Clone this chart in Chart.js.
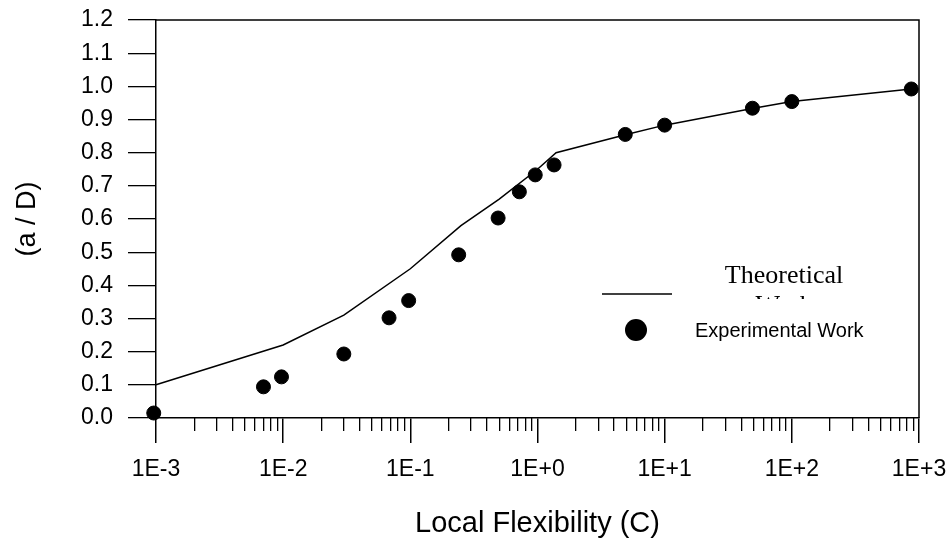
<!DOCTYPE html>
<html>
<head>
<meta charset="utf-8">
<script src="https://cdn.jsdelivr.net/npm/chart.js@4.4.1/dist/chart.umd.min.js"></script>
<style>
    body { margin: 0; background: #fff; }
    #caixa { width: 950px; height: 538px; }
</style>
</head>
<body>
<div id="caixa"><canvas id="grafico" width="950" height="538"></canvas></div>
<script>
// valores
const teoricoX = [0.001, 0.01, 0.03, 0.1, 0.25, 0.5, 1, 1.4, 5, 10, 50, 100, 870];
const teoricoY = [0.10, 0.22, 0.31, 0.45, 0.58, 0.66, 0.75, 0.80, 0.855, 0.883, 0.934, 0.954, 0.992];

const experimentalX = [0.00096, 0.007, 0.0097, 0.03, 0.068, 0.097, 0.24, 0.49, 0.72, 0.96, 1.35, 4.9, 10, 49, 100, 870];
const experimentalY = [0.015, 0.094, 0.124, 0.193, 0.302, 0.354, 0.492, 0.603, 0.682, 0.733, 0.763, 0.855, 0.883, 0.934, 0.954, 0.992];

const xTicks = [1e-3, 1e-2, 1e-1, 1e0, 1e1, 1e2, 1e3];
const xTickLabels = ['1E-3', '1E-2', '1E-1', '1E+0', '1E+1', '1E+2', '1E+3'];
const xMinorMult = [2, 3, 4, 5, 6, 7, 8, 9];

const fonteSans = "'Liberation Sans', Arial, sans-serif";
const fonteSerif = "'Liberation Serif', 'Times New Roman', serif";

function juntar(xs, ys) {
    return xs.map((x, i) => ({ x: x, y: ys[i] }));
}

// sem folga extra das labels, a área fica onde o padding manda
function semFolga(s) {
    s.paddingTop = 0;
    s.paddingBottom = 0;
    s.paddingLeft = 0;
    s.paddingRight = 0;
}

// moldura de cima e da direita
const moldura = {
    id: 'moldura',
    afterDraw(chart) {
        const a = chart.chartArea;
        const ctx = chart.ctx;
        ctx.save();
        ctx.strokeStyle = '#000';
        ctx.lineWidth = 1.5;
        ctx.beginPath();
        ctx.moveTo(a.left, a.top);
        ctx.lineTo(a.right, a.top);
        ctx.lineTo(a.right, a.bottom);
        ctx.stroke();
        ctx.restore();
    }
};

// legenda desenhada à mão, como no original
const legenda = {
    id: 'legenda',
    afterDraw(chart) {
        const a = chart.chartArea;
        const ctx = chart.ctx;
        const ds = chart.data.datasets;
        const lx = a.left + 446;
        const ly = a.top + 274;
        ctx.save();
        ctx.strokeStyle = ds[0].borderColor;
        ctx.lineWidth = 1.5;
        ctx.beginPath();
        ctx.moveTo(lx, ly);
        ctx.lineTo(lx + 70, ly);
        ctx.stroke();

        ctx.fillStyle = '#000';
        ctx.font = '26px ' + fonteSerif;
        ctx.textAlign = 'center';
        ctx.textBaseline = 'alphabetic';
        ctx.fillText(ds[0].label.split(' ')[0], lx + 182, ly - 11);
        ctx.save();
        ctx.beginPath();
        ctx.rect(lx + 100, ly - 10, 200, 15);
        ctx.clip();
        ctx.fillText(ds[0].label.split(' ')[1], lx + 182, ly + 19);
        ctx.restore();

        ctx.fillStyle = ds[1].backgroundColor;
        ctx.beginPath();
        ctx.arc(lx + 34, ly + 36, 11, 0, Math.PI * 2);
        ctx.fill();

        ctx.fillStyle = '#000';
        ctx.font = '20px ' + fonteSans;
        ctx.textAlign = 'left';
        ctx.textBaseline = 'middle';
        ctx.fillText(ds[1].label, lx + 93, ly + 37);
        ctx.restore();
    }
};

new Chart(document.getElementById('grafico'), {
    type: 'scatter',
    data: {
        datasets: [{
            label: 'Theoretical Work',
            data: juntar(teoricoX, teoricoY),
            showLine: true,
            borderColor: '#000',
            borderWidth: 1.5,
            pointRadius: 0,
            tension: 0,
            clip: false
        }, {
            label: 'Experimental Work',
            data: juntar(experimentalX, experimentalY),
            showLine: false,
            backgroundColor: '#000',
            borderColor: '#000',
            pointRadius: 7,
            clip: false
        }]
    },
    options: {
        responsive: false,
        animation: false,
        layout: { padding: { top: 20, right: 31, left: 0, bottom: 0 } },
        plugins: {
            legend: { display: false },
            tooltip: { enabled: false }
        },
        scales: {
            x: {
                type: 'logarithmic',
                position: 'bottom',
                weight: 1,
                min: 1e-3,
                max: 1e3,
                afterBuildTicks: (s) => { s.ticks = xTicks.map(v => ({ value: v })); },
                afterFit: (s) => { s.height = 120; semFolga(s); },
                grid: { drawOnChartArea: false, tickLength: 25, color: '#000', lineWidth: 1.5 },
                border: { display: true, color: '#000', width: 1.5 },
                ticks: {
                    autoSkip: false,
                    maxRotation: 0,
                    padding: 13,
                    color: '#000',
                    font: { family: fonteSans, size: 23 },
                    callback: (v, i) => xTickLabels[i]
                },
                title: {
                    display: true,
                    text: 'Local Flexibility (C)',
                    color: '#000',
                    padding: 0,
                    font: { family: fonteSans, size: 29, lineHeight: 1 }
                }
            },
            xMenor: {
                type: 'logarithmic',
                position: 'bottom',
                weight: 0,
                min: 1e-3,
                max: 1e3,
                afterBuildTicks: (s) => {
                    const t = [];
                    xTicks.slice(0, -1).forEach(d => xMinorMult.forEach(m => t.push({ value: d * m })));
                    s.ticks = t;
                },
                afterFit: (s) => { s.height = 0; semFolga(s); },
                grid: { drawOnChartArea: false, tickLength: 13, color: '#000', lineWidth: 1.3 },
                border: { display: false },
                ticks: { display: false }
            },
            y: {
                type: 'linear',
                min: 0,
                max: 1.2,
                afterFit: (s) => { s.width = 156; semFolga(s); },
                grid: { drawOnChartArea: false, tickLength: 28, color: '#000', lineWidth: 1.3 },
                border: { display: true, color: '#000', width: 1.5 },
                ticks: {
                    stepSize: 0.1,
                    padding: 15,
                    color: '#000',
                    font: { family: fonteSans, size: 23 },
                    callback: (v) => v.toFixed(1)
                },
                title: {
                    display: true,
                    text: '(a / D)',
                    color: '#000',
                    padding: { top: 14, bottom: 0 },
                    font: { family: fonteSans, size: 27, lineHeight: 1 }
                }
            }
        }
    },
    plugins: [moldura, legenda]
});
</script>
</body>
</html>
